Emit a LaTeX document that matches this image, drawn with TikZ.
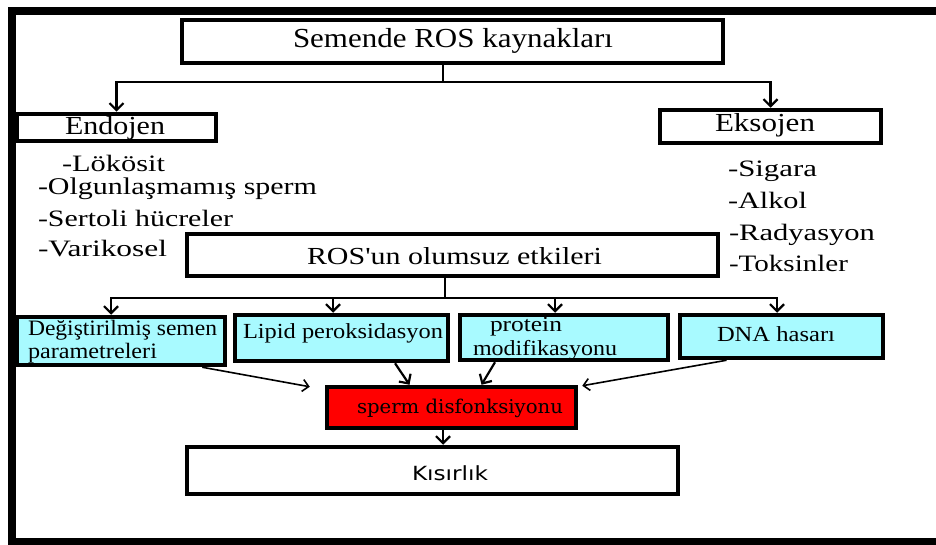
\documentclass[tikz,border=0pt]{standalone}
\usepackage{fontspec}
\setmainfont{Liberation Serif}
\newfontfamily\sansf{DejaVu Sans}
\newfontfamily\serifb{DejaVu Serif}
\usepackage{graphicx}
\usetikzlibrary{arrows.meta}
\newcommand{\fw}[3]{{\fontsize{#2}{#2}\selectfont\resizebox{#1pt}{\height}{#3}}}
\definecolor{cyanbox}{RGB}{168,250,255}
\definecolor{redbox}{RGB}{255,0,0}
\begin{document}
\begin{tikzpicture}[x=1pt,y=-1pt,
  box/.style={draw,line width=4.5pt,fill=white,inner sep=0pt},
  cbox/.style={box,fill=cyanbox},
  rbox/.style={box,fill=redbox},
  txt/.style={anchor=base west,inner sep=0pt,outer sep=0pt},
  conn/.style={line width=2pt},
  arr/.style={line width=2.2pt,-{Straight Barb[length=7pt,width=14pt]}},
  darr/.style={line width=1.6pt,-{Straight Barb[length=6pt,width=12pt]}}]
\useasboundingbox (0,0) rectangle (936,545);
\clip (0,0) rectangle (936,545);
\fill[white] (0,0) rectangle (936,545);
% outer frame
\draw[line width=8pt] (945,11) -- (12,11) -- (12,541.5) -- (945,541.5);
% boxes
\node[box, minimum width=541pt, minimum height=43pt] (sem) at (452.5,41.5) {};
\node[box, minimum width=199pt, minimum height=27pt] (endo) at (116.5,127.5) {};
\node[box, minimum width=221pt, minimum height=33pt] (eks) at (770.5,126.5) {};
\node[box, minimum width=531pt, minimum height=42pt] (ros) at (452.5,255) {};
\node[cbox, minimum width=208pt, minimum height=48pt] (deg) at (121,341) {};
\node[cbox, minimum width=213pt, minimum height=46pt] (lip) at (341.5,338) {};
\node[cbox, minimum width=208pt, minimum height=45pt] (prot) at (564,337.5) {};
\node[cbox, minimum width=203pt, minimum height=43pt] (dna) at (781.5,336.5) {};
\node[rbox, minimum width=249pt, minimum height=41pt] (red) at (451.5,407.5) {};
\node[box, minimum width=491pt, minimum height=47pt] (kis) at (432.5,470.5) {};
% texts
\node[txt] (tsem) at (293,47.5) {\fw{320}{27.5}{Semende ROS kaynakları}};
\node[txt] (tendo) at (65,135) {\fw{100}{26}{Endojen}};
\node[txt] (teks) at (715,132) {\fw{100}{26}{Eksojen}};
\node[txt] (l1) at (62,172) {\fw{103}{23.5}{-Lökösit}};
\node[txt] (l2) at (38,195) {\fw{279}{24}{-Olgunlaşmamış sperm}};
\node[txt] (l3) at (38,226.5) {\fw{195}{23.5}{-Sertoli hücreler}};
\node[txt] (l4) at (38,256.5) {\fw{129}{23.5}{-Varikosel}};
\node[txt] (r1) at (728,177) {\fw{89}{23.5}{-Sigara}};
\node[txt] (r2) at (728,208.5) {\fw{79}{23.5}{-Alkol}};
\node[txt] (r3) at (729,240.5) {\fw{146}{23.5}{-Radyasyon}};
\node[txt] (r4) at (729,271.5) {\fw{119}{23.5}{-Toksinler}};
\node[txt] (tros) at (307,265) {\fw{295}{24.5}{ROS\textquotesingle un olumsuz etkileri}};
\node[txt] (tdeg1) at (28,335) {\fw{189}{22}{Değiştirilmiş semen}};
\node[txt] (tdeg2) at (28,358) {\fw{129}{22}{parametreleri}};
\node[txt] (tlip) at (243,338) {\fw{200}{21.5}{Lipid peroksidasyon}};
\node[txt] (tprot1) at (490,331.5) {\fw{72}{21.5}{protein}};
\node[txt] (tprot2) at (473,355) {\fw{144}{21.5}{modifikasyonu}};
\node[txt] (tdna) at (717,341.5) {\fw{118}{21.5}{DNA hasarı}};
\node[txt] (tred) at (357,413.5) {\serifb\fw{206}{19}{sperm disfonksiyonu}};
\node[txt] (tkis) at (412,480) {\sansf\fw{76}{19.5}{Kısırlık}};
% connectors
\coordinate (j1) at (443,82);
\draw[conn] (sem.south -| j1) -- (j1);
\draw[arr] (j1) -| (endo.north);
\draw[arr] (j1) -| (eks.north);
\coordinate (j2) at (445,298);
\draw[conn] (ros.south -| j2) -- (j2);
\draw[arr] (j2) -| ([xshift=-10pt]deg.north);
\draw[arr] (j2) -| ([xshift=-8.5pt]lip.north);
\draw[arr] (j2) -| ([xshift=-9pt]prot.north);
\draw[arr] (j2) -| ([xshift=-4.5pt]dna.north);
\draw[darr] ([xshift=-25pt]deg.south east) -- ([xshift=-15pt,yshift=-2pt]red.north west);
\draw[arr] ([xshift=53.5pt]lip.south) -- ([xshift=-42pt]red.north);
\draw[arr] ([xshift=-69pt]prot.south) -- ([xshift=30pt]red.north);
\draw[darr] ([xshift=-55pt]dna.south) -- ([xshift=4pt,yshift=-1pt]red.north east);
\coordinate (rk) at ([xshift=-8.5pt]red.south);
\draw[arr] (rk) -- (rk |- kis.north);
\end{tikzpicture}
\end{document}
